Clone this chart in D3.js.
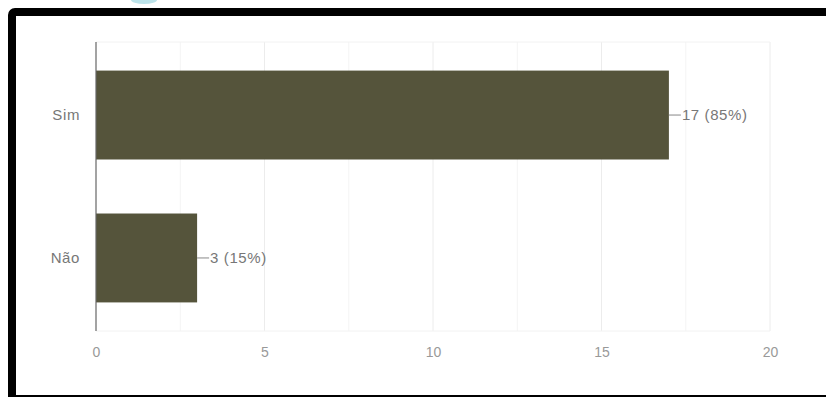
<!DOCTYPE html>
<html>
<head>
<meta charset="utf-8">
<script src="https://cdn.jsdelivr.net/npm/d3@7"></script>
<style>
  html, body { margin: 0; padding: 0; background: #fff; }
  svg { display: block; }
</style>
</head>
<body>
<div id="chart"></div>
<script>
const categories = ["Sim", "Não"];
const counts = [17, 3];
const percents = [85, 15];
const tickValues = [0, 5, 10, 15, 20];
const gridValues = [2.5, 5, 7.5, 10, 12.5, 15, 17.5, 20];

const width = 826, height = 397;
const plot = { left: 96, right: 770, top: 42, bottom: 331 };
const font = "Liberation Sans, Arial, sans-serif";

const svg = d3.select("#chart").append("svg")
    .attr("width", width)
    .attr("height", height);

// faint bit of a cropped teal icon at the very top
svg.append("path")
    .attr("d", "M131,0 A13,4 0 0 0 157,0 Z")
    .attr("fill", "#8fd0dc")
    .attr("opacity", 0.6);

// black frame (right side runs off the picture)
svg.append("rect")
    .attr("x", 12).attr("y", 12)
    .attr("width", 830).attr("height", 387)
    .attr("fill", "none")
    .attr("stroke", "#000")
    .attr("stroke-width", 8)
    .attr("rx", 3);

const x = d3.scaleLinear().domain([0, 20]).range([plot.left, plot.right]);
const y = d3.scaleBand().domain(categories)
    .range([plot.top, plot.bottom])
    .paddingInner(0.378).paddingOuter(0.2);

// grid
svg.append("g").selectAll("line")
    .data(gridValues)
    .join("line")
    .attr("x1", d => x(d)).attr("x2", d => x(d))
    .attr("y1", plot.top).attr("y2", plot.bottom)
    .attr("stroke", d => d % 5 === 0 ? "#ececec" : "#f4f4f4")
    .attr("stroke-width", 1);

svg.append("line")
    .attr("x1", plot.left).attr("x2", plot.right)
    .attr("y1", plot.top).attr("y2", plot.top)
    .attr("stroke", "#f2f2f2");
svg.append("line")
    .attr("x1", plot.left).attr("x2", plot.right)
    .attr("y1", plot.bottom).attr("y2", plot.bottom)
    .attr("stroke", "#f2f2f2");

// bars
svg.append("g").selectAll("rect")
    .data(counts)
    .join("rect")
    .attr("x", x(0))
    .attr("y", (d, i) => y(categories[i]))
    .attr("width", d => x(d) - x(0))
    .attr("height", y.bandwidth())
    .attr("fill", "#55543b");

// value labels with leader lines
const lab = svg.append("g");
counts.forEach((d, i) => {
    const cy = y(categories[i]) + y.bandwidth() / 2;
    lab.append("line")
        .attr("x1", x(d)).attr("x2", x(d) + 12)
        .attr("y1", cy).attr("y2", cy)
        .attr("stroke", "#888");
    lab.append("text")
        .attr("x", x(d) + 13).attr("y", cy)
        .attr("dy", "0.35em")
        .attr("font-family", font)
        .attr("font-size", 15)
        .attr("letter-spacing", 0.6)
        .attr("fill", "#777")
        .text(`${d} (${percents[i]}%)`);
});

// y axis
svg.append("line")
    .attr("x1", plot.left).attr("x2", plot.left)
    .attr("y1", plot.top).attr("y2", plot.bottom)
    .attr("stroke", "#666")
    .attr("stroke-width", 1.2);

svg.append("g").selectAll("text")
    .data(categories)
    .join("text")
    .attr("x", plot.left - 16)
    .attr("y", d => y(d) + y.bandwidth() / 2)
    .attr("dy", "0.35em")
    .attr("text-anchor", "end")
    .attr("font-family", font)
    .attr("font-size", 15)
    .attr("letter-spacing", 0.6)
    .attr("fill", "#777")
    .text(d => d);

// x axis labels
const xAxis = d3.axisBottom(x).tickValues(tickValues).tickSize(0).tickPadding(16);
svg.append("g")
    .attr("transform", `translate(0,${plot.bottom})`)
    .call(xAxis)
    .call(g => g.select(".domain").remove())
    .call(g => g.selectAll("text")
        .attr("font-family", font)
        .attr("font-size", 14)
        .attr("fill", "#999"));
</script>
</body>
</html>
